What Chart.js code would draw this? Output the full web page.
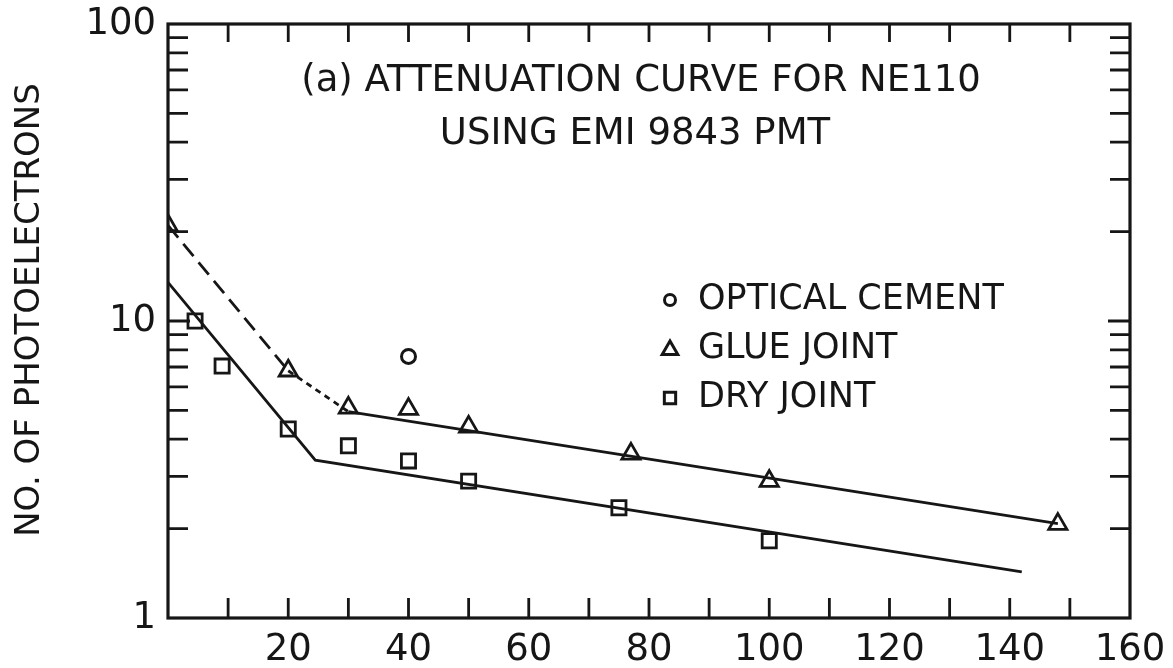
<!DOCTYPE html>
<html>
<head>
<meta charset="utf-8">
<script src="https://cdn.jsdelivr.net/npm/chart.js@4/dist/chart.umd.min.js"></script>
<style>
  html, body { margin: 0; padding: 0; background: #ffffff; }
  #wrap { width: 1173px; height: 668px; position: relative; }
</style>
</head>
<body>
<div id="wrap"><canvas id="c" width="1173" height="668"></canvas></div>
<script>
// ---- Data ----
const opticalX = [40];
const opticalY = [7.6];

const glueX = [0, 20, 30, 40, 50, 77, 100, 148];
const glueY = [21, 6.8, 5.1, 5.05, 4.4, 3.57, 2.89, 2.07];

const dryX = [4.5, 9, 20, 30, 40, 50, 75, 100];
const dryY = [10.0, 7.05, 4.33, 3.8, 3.38, 2.89, 2.35, 1.82];

// fitted curves
const glueDashX = [0, 20];
const glueDashY = [21, 6.8];
const glueDotX = [20, 30];
const glueDotY = [6.8, 4.95];
const glueSolidX = [30, 148];
const glueSolidY = [4.95, 2.08];
const dryLineX = [0, 24.5, 142];
const dryLineY = [13.5, 3.4, 1.43];

// axes / tick values
const xTickMarks = [10, 20, 30, 40, 50, 60, 70, 80, 90, 100, 110, 120, 130, 140, 150];
const xTickLabels = [20, 40, 60, 80, 100, 120, 140, 160];
const yTickMarks = [2, 3, 4, 5, 6, 7, 8, 9, 10, 20, 30, 40, 50, 60, 70, 80, 90];
const yTickLabels = [1, 10, 100];

const titleLines = ["(a) ATTENUATION CURVE FOR NE110", "USING EMI 9843 PMT"];
const yTitle = "NO. OF PHOTOELECTRONS";
const legendLabels = ["OPTICAL CEMENT", "GLUE JOINT", "DRY JOINT"];
const legendStyles = ["circle", "triangle", "rect"];

// ---- helpers ----
const INK = '#161616';
const FONT = "'DejaVu Sans', sans-serif";
const pts = (xs, ys) => xs.map((x, i) => ({ x: x, y: ys[i] }));

function lineDs(xs, ys, dash) {
  return {
    data: pts(xs, ys), showLine: true, borderColor: INK, borderWidth: 2.8,
    borderDash: dash || [], pointRadius: 0, pointHoverRadius: 0, fill: false, tension: 0
  };
}
function markerDs(xs, ys, style, r, bw) {
  return {
    data: pts(xs, ys), showLine: false, pointStyle: style, pointRadius: r,
    pointBorderWidth: bw, pointBorderColor: INK, pointBackgroundColor: '#ffffff',
    borderColor: INK, backgroundColor: '#ffffff'
  };
}

function drawMarker(ctx, style, x, y, r) {
  ctx.beginPath();
  if (style === 'circle') {
    ctx.arc(x, y, r, 0, Math.PI * 2);
  } else if (style === 'triangle') {
    for (let k = 0; k < 3; k++) {
      const a = k * 2 * Math.PI / 3;
      const px = x + Math.sin(a) * r, py = y - Math.cos(a) * r;
      if (k === 0) ctx.moveTo(px, py); else ctx.lineTo(px, py);
    }
    ctx.closePath();
  } else {
    const s = Math.SQRT1_2 * r;
    ctx.rect(x - s, y - s, 2 * s, 2 * s);
  }
  ctx.fillStyle = '#fff';
  ctx.fill();
  ctx.stroke();
}

const decor = {
  id: 'decor',
  beforeDraw(chart) {
    const ctx = chart.ctx;
    ctx.save();
    ctx.fillStyle = '#fff';
    ctx.fillRect(0, 0, chart.width, chart.height);
    ctx.restore();
  },
  afterDraw(chart) {
    const ctx = chart.ctx;
    const a = chart.chartArea;
    const xs = chart.scales.x, ys = chart.scales.y;
    ctx.save();
    ctx.strokeStyle = INK;
    ctx.fillStyle = INK;
    ctx.lineCap = 'butt';
    // frame
    ctx.lineWidth = 3.2;
    ctx.strokeRect(a.left, a.top, a.right - a.left, a.bottom - a.top);
    // inward ticks
    ctx.lineWidth = 2.8;
    ctx.beginPath();
    xTickMarks.forEach(v => {
      const px = xs.getPixelForValue(v);
      ctx.moveTo(px, a.bottom); ctx.lineTo(px, a.bottom - 20);
      ctx.moveTo(px, a.top); ctx.lineTo(px, a.top + 18);
    });
    yTickMarks.forEach(v => {
      const py = ys.getPixelForValue(v);
      const len = (v === 10) ? 22 : 20;
      ctx.moveTo(a.left, py); ctx.lineTo(a.left + len, py);
      ctx.moveTo(a.right, py); ctx.lineTo(a.right - len, py);
    });
    ctx.stroke();

    // title inside plot
    ctx.textAlign = 'center';
    ctx.textBaseline = 'middle';
    ctx.font = '37px ' + FONT;
    ctx.fillText(titleLines[0], 641, 81);
    ctx.fillText(titleLines[1], 635, 134);

    // y-axis title
    ctx.save();
    ctx.translate(30, 310);
    ctx.rotate(-Math.PI / 2);
    ctx.font = '34px ' + FONT;
    ctx.fillText(yTitle, 0, 0);
    ctx.restore();

    // legend
    ctx.textAlign = 'left';
    ctx.font = '35px ' + FONT;
    const legY = [300, 349, 398];
    const legR = [5.5, 9, 8];
    ctx.lineWidth = 3;
    legendLabels.forEach((t, i) => {
      drawMarker(ctx, legendStyles[i], 670, legY[i] + (legendStyles[i] === 'triangle' ? 1 : 0), legR[i]);
      ctx.fillStyle = INK;
      ctx.fillText(t, 698, legY[i]);
    });
    ctx.restore();
  }
};

new Chart(document.getElementById('c'), {
  type: 'scatter',
  data: {
    datasets: [
      lineDs(glueDashX, glueDashY, [16, 8]),
      lineDs(glueDotX, glueDotY, [6, 5]),
      lineDs(glueSolidX, glueSolidY),
      lineDs(dryLineX, dryLineY),
      markerDs(opticalX, opticalY, 'circle', 7, 3),
      markerDs(glueX, glueY, 'triangle', 10.5, 2.8),
      markerDs(dryX, dryY, 'rect', 10, 2.8)
    ]
  },
  options: {
    responsive: false,
    animation: false,
    events: [],
    layout: { padding: { left: 0, top: 24, right: 43, bottom: 0 } },
    plugins: { legend: { display: false }, tooltip: { enabled: false }, title: { display: false } },
    scales: {
      x: {
        type: 'linear', min: 0, max: 160,
        grid: { display: false, drawTicks: false },
        border: { display: false },
        afterFit: s => { s.height = 50; s.paddingLeft = 0; s.paddingRight = 0; },
        ticks: {
          stepSize: 10, autoSkip: false, maxRotation: 0, padding: 10,
          color: INK, font: { family: FONT, size: 37 },
          callback: v => xTickLabels.includes(v) ? String(v) : ''
        }
      },
      y: {
        type: 'logarithmic', min: 1, max: 100,
        grid: { display: false, drawTicks: false },
        border: { display: false },
        afterFit: s => { s.width = 168; s.paddingTop = 0; s.paddingBottom = 0; },
        ticks: {
          autoSkip: false, padding: 12,
          color: INK, font: { family: FONT, size: 37 },
          callback: v => yTickLabels.includes(v) ? String(v) : ''
        }
      }
    }
  },
  plugins: [decor]
});
</script>
</body>
</html>
